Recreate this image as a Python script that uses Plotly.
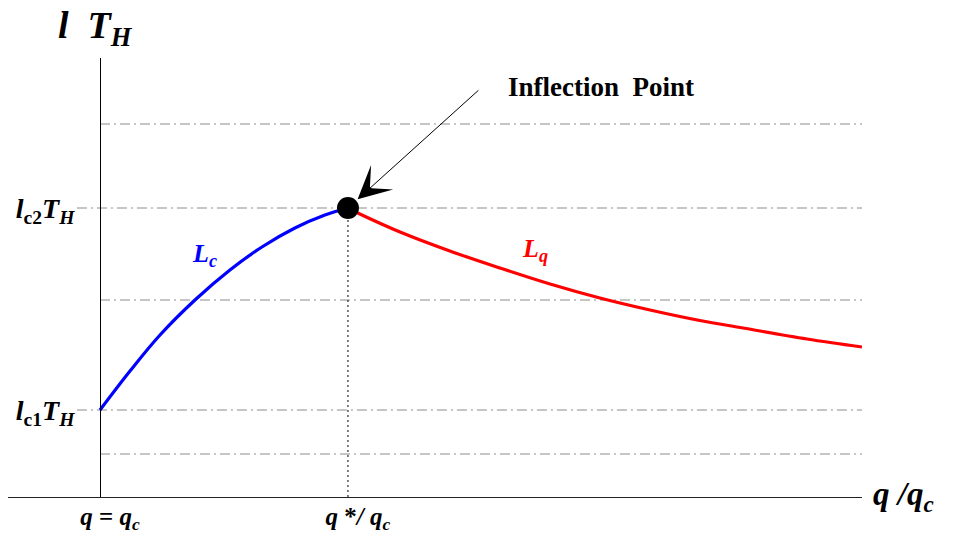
import plotly.graph_objects as go

# ---- data (x in q/qc units, y in arbitrary l*T_H units) ----
x_blue = [1.000, 1.121, 1.242, 1.383, 1.524, 1.653, 1.786, 1.907, 2.000]
y_blue = [0.87, 1.26, 1.62, 1.97, 2.27, 2.50, 2.69, 2.82, 2.89]
x_red = [2.000, 2.048, 2.210, 2.411, 2.613, 2.815, 3.016, 3.218, 3.419, 3.593, 3.851, 4.073]
y_red = [2.89, 2.83, 2.65, 2.46, 2.29, 2.13, 1.99, 1.87, 1.765, 1.69, 1.58, 1.50]

x_star = 2.0          # q*/qc
y_c1 = 0.87           # l_c1 T_H
y_c2 = 2.89           # l_c2 T_H
grid_levels = [3.73, y_c2, 1.97, y_c1, 0.43]

x_tickvals = [1.0, x_star]
x_ticktext = ["<b><i>q</i> = <i>q<sub>c</sub></i></b>",
              "<b><i>q</i> *<i>/ q<sub>c</sub></i></b>"]
y_tickvals = [y_c1, y_c2]
y_ticktext = ["<b><i>l</i><sub>c1</sub><i>T<sub>H</sub></i></b>",
              "<b><i>l</i><sub>c2</sub><i>T<sub>H</sub></i></b>"]

X_MIN, X_MAX = 0.629, 4.073
Y_MIN, Y_MAX = 0.0, 4.39
FONT = "Liberation Serif"

fig = go.Figure()

# grid lines (dash-dot)
for lv in grid_levels:
    x0 = 0.907 if lv in y_tickvals else 1.0
    fig.add_shape(type="line", xref="x", yref="y", x0=x0, x1=X_MAX, y0=lv, y1=lv,
                  line=dict(color="#8c8c8c", width=1, dash="10px,4px,2px,4px"), layer="below")

# vertical dotted line at q*/qc
fig.add_shape(type="line", xref="x", yref="y", x0=x_star, x1=x_star, y0=0, y1=y_c2,
              line=dict(color="black", width=1, dash="2px,3px"), layer="below")

fig.add_trace(go.Scatter(x=x_blue, y=y_blue, mode="lines", line=dict(color="#0000ff", width=3.2, shape="spline"),
                         hoverinfo="skip", showlegend=False))
fig.add_trace(go.Scatter(x=x_red, y=y_red, mode="lines", line=dict(color="#ff0000", width=3.2, shape="spline"),
                         hoverinfo="skip", showlegend=False))
fig.add_trace(go.Scatter(x=[x_star], y=[y_c2], mode="markers", marker=dict(color="black", size=22),
                         hoverinfo="skip", showlegend=False))

ann = []
# arrow to inflection point
ann.append(dict(x=x_star, y=y_c2, xref="x", yref="y", ax=2.532, ay=4.08, axref="x", ayref="y",
                text="", showarrow=True, arrowhead=3, arrowsize=5.5, arrowwidth=1, arrowcolor="black",
                standoff=13))
ann.append(dict(x=3.020, y=4.10, xref="x", yref="y", text="<b>Inflection&nbsp;&nbsp;Point</b>",
                xanchor="center", yanchor="middle",
                showarrow=False, font=dict(family=FONT, size=27, color="black")))
# curve labels
ann.append(dict(x=1.423, y=2.42, xref="x", yref="y", text="<b><i>L<sub>c</sub></i></b>",
                xanchor="center", yanchor="middle",
                showarrow=False, font=dict(family=FONT, size=26, color="#0000ff")))
ann.append(dict(x=2.754, y=2.47, xref="x", yref="y", text="<b><i>L<sub>q</sub></i></b>",
                xanchor="center", yanchor="middle",
                showarrow=False, font=dict(family=FONT, size=26, color="#ff0000")))
# axis titles (paper coordinates)
ann.append(dict(x=0.1025, y=1.068, xref="paper", yref="paper", text="<b><i>l&nbsp;&nbsp;T<sub>H</sub></i></b>",
                xanchor="center", yanchor="middle",
                showarrow=False, font=dict(family=FONT, size=38, color="black")))
ann.append(dict(x=1.049, y=0.002, xref="paper", yref="paper", text="<b><i>q /q<sub>c</sub></i></b>",
                xanchor="center", yanchor="middle",
                showarrow=False, font=dict(family=FONT, size=33, color="black")))

fig.update_layout(
    width=955, height=533,
    autosize=False,
    margin=dict(l=8, r=93, t=58, b=36, autoexpand=False),
    paper_bgcolor="white", plot_bgcolor="white",
    showlegend=False,
    annotations=ann,
    xaxis=dict(range=[X_MIN, X_MAX], showgrid=False, zeroline=False, showline=True, automargin=False,
               linecolor="#222", linewidth=1, tickvals=x_tickvals, ticktext=x_ticktext,
               ticks="", tickfont=dict(family=FONT, size=25, color="black"),
               ticklabelstandoff=-3, ticklabelshift=10, fixedrange=True),
    yaxis=dict(range=[Y_MIN, Y_MAX], showgrid=False, zeroline=False, showline=True, automargin=False,
               linecolor="black", linewidth=1, anchor="free", position=(100 - 8) / 854,
               tickvals=y_tickvals, ticktext=y_ticktext, ticks="",
               tickfont=dict(family=FONT, size=28, color="black"),
               ticklabelstandoff=20, fixedrange=True),
)

fig.write_html("out.html", config={"responsive": False, "displayModeBar": False},
               post_script="document.body.style.margin='0';")
